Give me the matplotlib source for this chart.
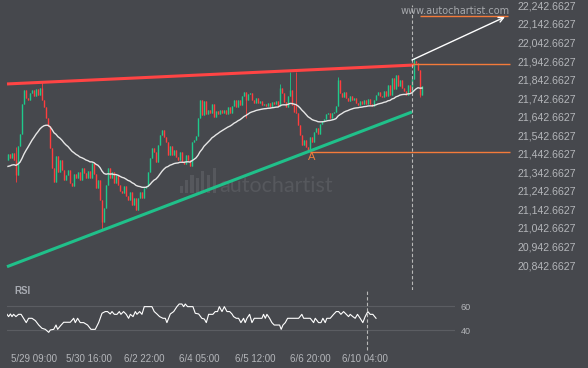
import numpy as np
import pandas as pd
import matplotlib
matplotlib.use("Agg")
import matplotlib.pyplot as plt
from matplotlib.patches import Rectangle

plt.rcParams['font.family'] = ['Liberation Sans', 'DejaVu Sans']

# --- data --------------------------------------------------------------
first_open = 21409
closes = [
    21441, 21420, 21447, 21409, 21328, 21485, 21549, 21711, 21786, 21743,
    21732, 21770, 21786, 21754, 21792, 21759, 21797, 21732, 21695, 21635,
    21592, 21474, 21366, 21291, 21431, 21344, 21409, 21355, 21302, 21328,
    21355, 21285, 21269, 21334, 21312, 21344, 21302, 21366, 21339, 21312,
    21350, 21312, 21393, 21334, 21258, 21302, 21194, 21075, 21150, 21274,
    21366, 21312, 21344, 21285, 21328, 21274, 21242, 21231, 21269, 21215,
    21194, 21237, 21166, 21204, 21140, 21204, 21237, 21204, 21258, 21269,
    21344, 21420, 21474, 21452, 21398, 21490, 21544, 21571, 21533, 21506,
    21436, 21485, 21436, 21463, 21425, 21409, 21452, 21398, 21388, 21436,
    21409, 21377, 21506, 21517, 21538, 21635, 21732, 21652, 21727, 21657,
    21679, 21662, 21711, 21641, 21673, 21657, 21679, 21662, 21679, 21657,
    21695, 21662, 21700, 21732, 21695, 21732, 21706, 21754, 21776, 21732,
    21765, 21770, 21732, 21716, 21743, 21716, 21727, 21706, 21711, 21700,
    21716, 21695, 21722, 21711, 21727, 21700, 21797, 21770, 21722, 21695,
    21754, 21786, 21706, 21668, 21662, 21598, 21544, 21490, 21517, 21479,
    21463, 21533, 21506, 21560, 21582, 21549, 21603, 21619, 21630, 21657,
    21662, 21635, 21662, 21668, 21700, 21840, 21770, 21749, 21776, 21743,
    21727, 21754, 21732, 21743, 21716, 21706, 21727, 21711, 21732, 21711,
    21738, 21711, 21700, 21732, 21759, 21776, 21754, 21749, 21781, 21754,
    21813, 21759, 21851, 21792, 21867, 21808, 21840, 21797, 21781, 21759,
    21813, 21776, 21846, 21943, 21932, 21894, 21759, 21808,
]
wick_highs = {4: 21479, 17: 21830, 136: 21819, 141: 21883, 144: 21883,
              165: 21856, 203: 21959}
wick_lows = {4: 21291, 47: 21037, 119: 21635, 150: 21458, 206: 21749}
ma_start = 21370  # moving average level at the left edge

rsi_bar = [0.0, 0.9, 1.9, 2.8, 3.7, 5.0, 6.5, 7.9, 9.3, 10.8, 12.1, 14.0, 15.9,
           17.8, 19.6, 21.5, 23.4, 24.3, 26.2, 27.5, 28.4, 29.9, 31.8, 33.6,
           35.5, 37.4, 38.3, 39.6, 41.1, 43.0, 45.2, 47.1, 49.5, 51.4, 53.3,
           55.1, 56.4, 57.9, 58.9, 60.2, 61.7, 63.0, 63.9, 65.4, 66.9, 68.2,
           69.2, 70.7, 72.0, 72.9, 74.4, 75.7, 77.0, 79.4, 81.3, 82.6, 84.1,
           85.6, 87.5, 88.8, 89.7, 91.6, 93.5, 95.3, 96.6, 98.1, 99.1, 100.0,
           101.3, 104.3, 105.6, 107.5, 109.3, 110.7, 111.8, 113.1, 115.5,
           116.8, 118.1, 119.1, 120.6, 121.9, 123.4, 124.9, 126.2, 127.1,
           128.6, 129.9, 131.2, 132.7, 133.6, 134.6, 136.1, 137.4, 138.7,
           143.0, 143.9, 144.9, 145.8, 147.3, 148.6, 149.9, 152.9, 153.8,
           154.8, 156.1, 157.4, 163.6, 165.4, 166.4, 170.1, 172.0, 172.9,
           174.8, 176.1, 177.2, 178.5, 179.4, 181.3, 183.2, 184.7, 186.0,
           187.3, 188.8, 190.3, 191.6, 192.5, 194.0, 195.3, 196.6, 198.1,
           199.6, 200.9, 202.4, 203.7, 205.2, 207.0]
rsi_val = [53.3, 51.4, 53.6, 51.4, 53.3, 51.4, 53.3, 53.3, 50.0, 46.4, 50.0,
           50.0, 48.1, 44.4, 41.7, 40.8, 38.3, 40.3, 40.8, 44.4, 40.8, 43.6,
           46.7, 46.7, 46.7, 50.0, 46.4, 50.0, 46.4, 46.4, 44.4, 40.8, 40.8,
           46.4, 54.2, 55.6, 55.6, 53.6, 55.6, 53.3, 53.3, 55.6, 53.3, 55.6,
           53.3, 50.0, 53.3, 51.4, 55.6, 53.3, 55.6, 53.3, 59.7, 59.7, 59.7,
           55.6, 53.6, 51.4, 50.0, 50.0, 46.4, 53.6, 55.6, 59.7, 61.9, 61.9,
           59.7, 61.9, 59.7, 59.7, 54.2, 53.6, 50.0, 49.4, 46.4, 53.3, 53.3,
           55.6, 55.6, 59.7, 55.6, 59.7, 55.6, 55.6, 53.6, 51.4, 50.0, 50.0,
           46.4, 50.0, 46.4, 50.0, 53.3, 46.4, 50.0, 50.0, 53.3, 50.0, 53.3,
           50.0, 46.4, 44.4, 44.4, 40.8, 44.4, 46.4, 50.0, 50.0, 53.3, 50.0,
           50.0, 46.4, 50.0, 46.4, 46.4, 50.0, 46.4, 50.0, 50.0, 53.3, 55.6,
           55.6, 53.3, 55.6, 53.3, 51.4, 53.3, 51.4, 50.0, 53.3, 50.0, 46.4,
           51.4, 55.6, 53.3, 53.3, 50.0]

price_ticks = [20842.6627 + 100 * k for k in range(15)]
time_ticks = [15, 46, 77, 108, 139, 170, 201]
time_labels = ["5/29 09:00", "5/30 16:00", "6/2 22:00", "6/4 05:00",
               "6/5 12:00", "6/6 20:00", "6/10 04:00"]

resist = ([-0.5, 203], [21819, 21921])
support = ([-0.5, 202], [20834, 21668])
signal_bar = 202
level_hi = 21927
level_a = 21452
target = 22185
arrow_start = (202, 21948)
arrow_end = (248.5, 22180)
point_a = (152, 21425)

# --- styling -----------------------------------------------------------
bg = '#46484d'
up_c = '#1ec98b'
dn_c = '#ff3d3d'
txt_c = '#b4b6ba'
orange = '#f47b3a'
mark_c = '#56585d'

W, H = 588, 368
fig = plt.figure(figsize=(W / 100, H / 100), dpi=100, facecolor=bg)


def px_axes(x0, y0, x1, y1):
    ax = fig.add_axes([x0 / W, 1 - y1 / H, (x1 - x0) / W, (y1 - y0) / H])
    ax.set_facecolor(bg)
    for s in ax.spines.values():
        s.set_visible(False)
    return ax


# main price panel
ax = px_axes(0, 0, 512, 290)

# faint watermark logo (behind the chart)
for hx, hh in [(0.352, 0.025), (0.362, 0.045), (0.372, 0.06), (0.382, 0.05),
               (0.392, 0.075), (0.404, 0.06), (0.416, 0.085)]:
    ax.add_patch(Rectangle((hx, 0.335), 0.006, hh, transform=ax.transAxes,
                           color=mark_c, lw=0, zorder=0.5))
ax.text(0.540, 0.358, 'autochartist', transform=ax.transAxes, color=mark_c,
        fontsize=15.5, family=['Lato', 'DejaVu Sans'],
        ha='center', va='center', zorder=0.6)

closes = np.array(closes, dtype=float)
opens = np.r_[first_open, closes[:-1]]
idx = np.arange(len(closes))
highs = np.maximum(opens, closes)
lows = np.minimum(opens, closes)
for i, v in wick_highs.items():
    highs[i] = v
for i, v in wick_lows.items():
    lows[i] = v
colors = np.where(closes >= opens, up_c, dn_c)

ax.vlines(idx, lows, highs, colors=colors, lw=0.6)
ax.vlines(idx, np.minimum(opens, closes) - 1.5, np.maximum(opens, closes) + 1.5,
          colors=colors, lw=1.0)

ma = pd.Series(np.r_[ma_start, closes]).ewm(span=30, adjust=False).mean()
ax.plot(idx, ma.values[1:], color='#e6e6e6', lw=1.0)

ax.plot(*resist, color='#ff4444', lw=2.2, solid_capstyle='butt')
ax.plot(*support, color='#20c08a', lw=2.2, solid_capstyle='butt')

ax.hlines(level_hi, signal_bar, 251, color=orange, lw=1.0)
ax.hlines(level_a, point_a[0] - 1, 251, color=orange, lw=1.0)
ax.hlines(target, 206, 250, color=orange, lw=1.0)
ax.annotate('', xy=arrow_end, xytext=arrow_start,
            arrowprops=dict(arrowstyle='->', color='white', lw=1.0,
                            shrinkA=0, shrinkB=0, mutation_scale=9))
ax.axvline(signal_bar, ymin=0, ymax=0.983, color='#b8b8b8', lw=0.8,
           ls=(0, (3, 2)))
ax.text(point_a[0], point_a[1], 'A', color=orange, fontsize=8,
        ha='center', va='center')
ax.text(223.5, 22213, 'www.autochartist.com', color='#a6a8ac',
        fontsize=7, family=['DejaVu Sans'], ha='center', va='center')

ax.set_xlim(-4, 252)
ax.set_ylim(20708.4, 22271.5)
ax.set_xticks([])
ax.yaxis.tick_right()
ax.set_yticks(price_ticks)
ax.set_yticklabels([f"{v:,.4f}" for v in price_ticks])
ax.tick_params(axis='y', length=0, pad=4, labelsize=7.6, labelcolor=txt_c)

# RSI panel
rx = px_axes(7, 295, 455, 347)
rx.axhline(60, color='#5b5d62', lw=0.8)
rx.axhline(40, color='#5b5d62', lw=0.8)
rx.plot(rsi_bar, rsi_val, color='white', lw=0.8)
rx.axvline(signal_bar, ymin=-3 / 52, ymax=1.1, color='#b8b8b8', lw=0.8,
           ls=(0, (3, 2)), clip_on=False)
rx.set_xlim(0, 251.3)
rx.set_ylim(26.1, 69.4)
rx.yaxis.tick_right()
rx.set_yticks([40, 60])
rx.tick_params(axis='y', length=0, pad=4, labelsize=6.5, labelcolor=txt_c)
rx.set_xticks(time_ticks)
rx.set_xticklabels(time_labels)
rx.tick_params(axis='x', length=0, pad=5, labelsize=7, labelcolor=txt_c)
fig.text(14 / W, 1 - 291 / H, 'RSI', color='#a8abb2', fontsize=7,
         fontweight='bold', va='center')

fig.savefig('out.png', dpi=100, facecolor=bg)
